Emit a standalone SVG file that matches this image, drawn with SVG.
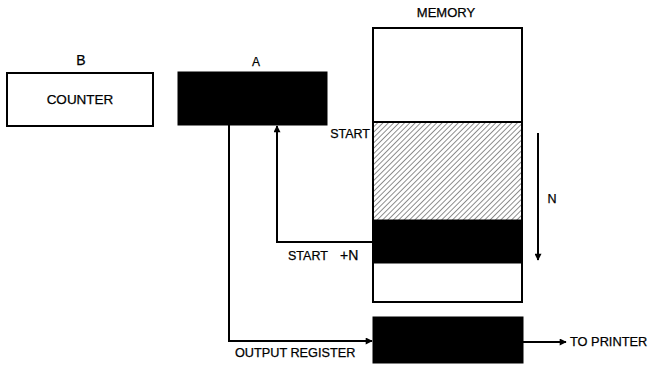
<svg xmlns="http://www.w3.org/2000/svg" width="652" height="365" viewBox="0 0 652 365">
<style>
text { font-family: "Liberation Sans", Arial, sans-serif; fill: #000; stroke: #000; stroke-width: 0.25; }
.lbl { font-size: 12.5px; }
.box { fill: #fff; stroke: #000; stroke-width: 2; }
.solid { fill: #000; stroke: #000; stroke-width: 1; }
.wire { fill: none; stroke: #000; stroke-width: 2; }
</style>
<defs>
<marker id="arr" viewBox="0 0 10 10" refX="9" refY="5" markerWidth="9" markerHeight="7" markerUnits="userSpaceOnUse" orient="auto">
<path d="M0,0 L10,5 L0,10 Z" fill="#000"/>
</marker>
<pattern id="hatch" patternUnits="userSpaceOnUse" width="3.8" height="4" patternTransform="rotate(45)">
<rect width="3.8" height="4" fill="#fff"/>
<line x1="0" y1="0" x2="0" y2="4" stroke="#000" stroke-width="0.9"/>
</pattern>
</defs>
<rect width="652" height="365" fill="#fff"/>

<g id="counter">
<text class="lbl" x="81" y="65" text-anchor="middle" style="font-size:14px">B</text>
<rect class="box" x="7" y="73" width="146" height="53"/>
<text class="lbl" x="80" y="104" text-anchor="middle" style="font-size:13.5px">COUNTER</text>
</g>

<g id="registerA">
<text class="lbl" x="256" y="66" text-anchor="middle" style="font-size:12px">A</text>
<rect class="solid" x="178" y="72" width="149" height="53"/>
</g>

<g id="memory">
<text class="lbl" x="446" y="17" text-anchor="middle" style="font-size:13px">MEMORY</text>
<rect x="374" y="123" width="147" height="97" fill="url(#hatch)"/>
<rect class="solid" x="373" y="220" width="149" height="43"/>
<rect x="373" y="28" width="149" height="274" fill="none" stroke="#000" stroke-width="2"/>
<line x1="373" y1="122" x2="522" y2="122" stroke="#000" stroke-width="2"/>
<text class="lbl" x="370" y="138" text-anchor="end">START</text>
<text class="lbl" x="288" y="260">START <tspan x="340" style="font-size:14px">+N</tspan></text>
</g>

<g id="outputRegister">
<rect class="solid" x="373" y="317" width="150" height="46"/>
<text class="lbl" x="235" y="357" style="font-size:12.7px">OUTPUT REGISTER</text>
</g>

<g id="printer">
<text class="lbl" x="570" y="346" style="font-size:12.8px">TO PRINTER</text>
</g>

<g id="size">
<text class="lbl" x="552" y="203" text-anchor="middle">N</text>
</g>

<g id="connectors">
<path class="wire" d="M229,125 V341 H372" marker-end="url(#arr)"/>
<path class="wire" d="M373,242 H277 V126" marker-end="url(#arr)"/>
<path class="wire" d="M523,342 H566" marker-end="url(#arr)"/>
<path class="wire" d="M538,133 V260" marker-end="url(#arr)"/>
</g>
</svg>
